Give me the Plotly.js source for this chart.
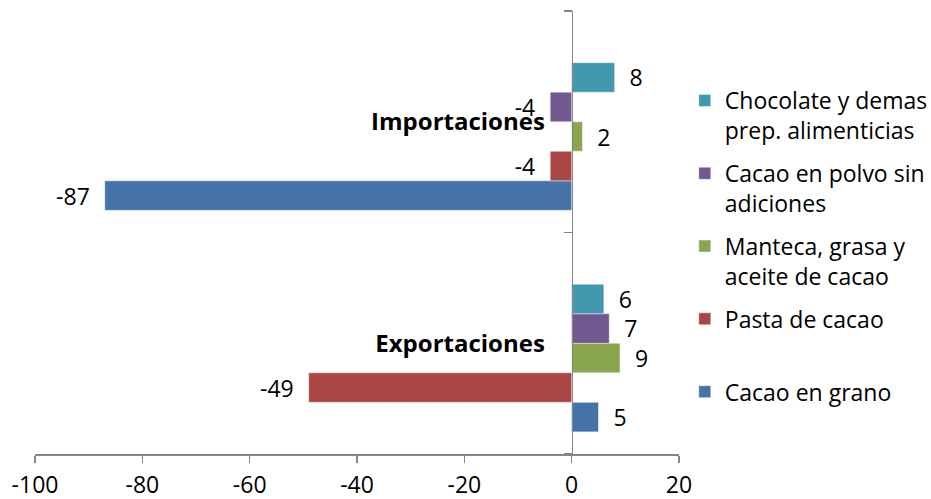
<!DOCTYPE html>
<html>
<head>
<meta charset="utf-8">
<script src="https://cdn.plot.ly/plotly-3.0.1.min.js"></script>
<style>
  html, body { margin: 0; padding: 0; background: #fff; }
  #chart { width: 931px; height: 499px; }
</style>
</head>
<body>
<div id="chart"></div>
<script>
// Balance comercial del cacao y derivados, por tipo de producto
const categories = ['Exportaciones', 'Importaciones'];

const cacaoEnGrano = [5, -87];
const pastaDeCacao = [-49, -4];
const mantecaGrasaAceite = [9, 2];
const cacaoEnPolvo = [7, -4];
const chocolateYDemas = [6, 8];

const seriesNames = [
  'Cacao en grano',
  'Pasta de cacao',
  'Manteca, grasa y<br>aceite de cacao',
  'Cacao en polvo sin<br>adiciones',
  'Chocolate y demas<br>prep. alimenticias'
];
const seriesValues = [cacaoEnGrano, pastaDeCacao, mantecaGrasaAceite, cacaoEnPolvo, chocolateYDemas];
const seriesColors = ['#4572A7', '#AA4643', '#89A54E', '#71588F', '#4198AF'];

const xTickValues = [-100, -80, -60, -40, -20, 0, 20];
const xRange = [-100, 20];

const FONT = 'Open Sans, Noto Sans, sans-serif';
const AXIS_GREY = '#868686';

// Six equal slots per category (the top one is left empty), 80% of the band.
const slots = 6;
const slotWidth = 0.8 / slots;

const traces = seriesValues.map((vals, i) => ({
  type: 'bar',
  orientation: 'h',
  name: i === 1 ? seriesNames[i] + '<br>\u00a0' : seriesNames[i],
  legendgroup: 'g' + i,
  legendrank: seriesValues.length - i,
  x: vals,
  y: categories,
  width: slotWidth,
  offset: -0.4 + i * slotWidth,
  marker: { color: seriesColors[i], line: { color: 'rgba(255,255,255,0.55)', width: 0.8 } },
  text: vals.map(v => String(v)),
  texttemplate: vals.map(v => v < 0 ? '%{text}\u00a0\u00a0' : '\u00a0\u00a0%{text}'),
  textposition: 'outside',
  constraintext: 'none',
  cliponaxis: false,
  textfont: { family: FONT, size: 23, color: '#000' },
  hoverinfo: 'skip'
}));

const layout = {
  width: 931,
  height: 499,
  margin: { l: 35, r: 252, t: 11, b: 45, pad: 0, autoexpand: false },
  paper_bgcolor: '#fff',
  plot_bgcolor: '#fff',
  barmode: 'overlay',
  showlegend: true,
  font: { family: FONT, color: '#000' },
  xaxis: {
    range: xRange,
    tickmode: 'array',
    tickvals: xTickValues,
    ticktext: xTickValues.map(v => String(v)),
    showgrid: false,
    zeroline: false,
    showline: true,
    linecolor: AXIS_GREY,
    linewidth: 1.5,
    ticks: 'outside',
    ticklen: 7,
    tickwidth: 1.5,
    tickcolor: AXIS_GREY,
    tickfont: { family: FONT, size: 23, color: '#000' },
    ticklabelstandoff: 3,
    automargin: false
  },
  yaxis: {
    type: 'category',
    categoryorder: 'array',
    categoryarray: categories,
    range: [-0.5, 1.5],
    anchor: 'free',
    position: (0 - xRange[0]) / (xRange[1] - xRange[0]),
    showgrid: false,
    zeroline: false,
    showline: true,
    linecolor: AXIS_GREY,
    linewidth: 1.5,
    ticks: 'outside',
    tickson: 'boundaries',
    ticklen: 8,
    tickwidth: 1.5,
    tickcolor: AXIS_GREY,
    tickfont: { family: FONT, size: 24, color: '#000', weight: 'bold' },
    ticklabelstandoff: 22,
    automargin: false
  },
  legend: {
    x: 1.009,
    xanchor: 'left',
    y: 0.8465,
    yanchor: 'top',
    traceorder: 'grouped',
    tracegroupgap: 10,
    valign: 'top',
    font: { family: FONT, size: 23, color: '#000' },
    bgcolor: 'rgba(0,0,0,0)',
    borderwidth: 0
  }
};

Plotly.newPlot('chart', traces, layout, { displayModeBar: false, staticPlot: true });
</script>
</body>
</html>
